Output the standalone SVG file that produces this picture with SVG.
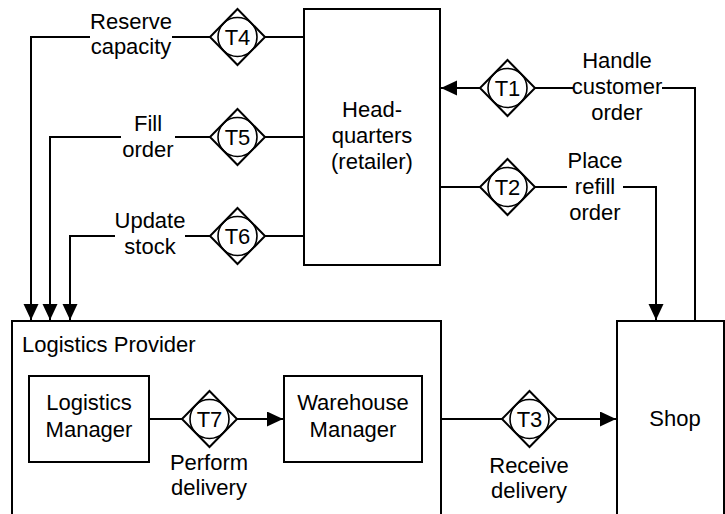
<svg xmlns="http://www.w3.org/2000/svg" width="725" height="514" viewBox="0 0 725 514">
<style>
.box{fill:none;stroke:#000;stroke-width:2}
.ln{fill:none;stroke:#000;stroke-width:2}
.dia{fill:#fff;stroke:#000;stroke-width:2}
.cir{fill:none;stroke:#000;stroke-width:1.6}
text{font-family:"Liberation Sans",Arial,sans-serif;font-size:22px;fill:#000}
.c{text-anchor:middle}
</style>
<defs>
<marker id="ah" markerUnits="userSpaceOnUse" markerWidth="17" markerHeight="16" refX="16" refY="7.5" orient="auto">
<path d="M0,0 L16,7.5 L0,15 z" fill="#000"/>
</marker>
<g id="tsym">
<path d="M0,-28 L27.5,0 L0,28 L-27.5,0 z" class="dia"/>
<circle r="19.5" class="cir"/>
</g>
</defs>
<rect width="725" height="514" fill="#fff"/>

<g id="hq">
<rect class="box" x="304" y="9" width="136" height="256"/>
<text class="c" x="372" y="117">Head-</text>
<text class="c" x="372" y="143">quarters</text>
<text class="c" x="372" y="169">(retailer)</text>
</g>

<g id="logistics-provider">
<rect class="box" x="12" y="321" width="429" height="200"/>
<text x="22" y="352">Logistics Provider</text>
</g>

<g id="shop">
<rect class="box" x="617" y="321" width="107" height="200"/>
<text class="c" x="675" y="426">Shop</text>
</g>

<g id="logistics-manager">
<rect class="box" x="29" y="376" width="120" height="86"/>
<text class="c" x="89" y="410">Logistics</text>
<text class="c" x="89" y="437">Manager</text>
</g>

<g id="warehouse-manager">
<rect class="box" x="284" y="376" width="138" height="86"/>
<text class="c" x="353" y="410">Warehouse</text>
<text class="c" x="353" y="437">Manager</text>
</g>

<g id="connectors">
<polyline class="ln" points="304,37 265,37"/>
<polyline class="ln" points="210,37 172,37"/>
<polyline class="ln" points="90,37 31,37 31,320" marker-end="url(#ah)"/>
<polyline class="ln" points="304,137 265,137"/>
<polyline class="ln" points="210,137 175,137"/>
<polyline class="ln" points="121,137 50,137 50,320" marker-end="url(#ah)"/>
<polyline class="ln" points="304,236 265,236"/>
<polyline class="ln" points="210,236 185,236"/>
<polyline class="ln" points="115,236 70,236 70,320" marker-end="url(#ah)"/>
<polyline class="ln" points="695,321 695,88 662,88"/>
<polyline class="ln" points="573,88 535,88"/>
<polyline class="ln" points="480,88 441,88" marker-end="url(#ah)"/>
<polyline class="ln" points="440,187 480,187"/>
<polyline class="ln" points="535,187 567,187"/>
<polyline class="ln" points="623,187 656,187 656,320" marker-end="url(#ah)"/>
<polyline class="ln" points="149,419 182,419"/>
<polyline class="ln" points="237,419 283,419" marker-end="url(#ah)"/>
<polyline class="ln" points="441,419 502,419"/>
<polyline class="ln" points="557,419 616,419" marker-end="url(#ah)"/>
</g>

<g id="T1">
<use href="#tsym" x="507.5" y="88"/>
<text class="c" x="507.5" y="96">T1</text>
<text class="c" x="617" y="68">Handle</text>
<text class="c" x="617" y="94">customer</text>
<text class="c" x="617" y="120">order</text>
</g>

<g id="T2">
<use href="#tsym" x="507.5" y="187"/>
<text class="c" x="507.5" y="195">T2</text>
<text class="c" x="595" y="168">Place</text>
<text class="c" x="595" y="194">refill</text>
<text class="c" x="595" y="220">order</text>
</g>

<g id="T3">
<use href="#tsym" x="529.5" y="419"/>
<text class="c" x="529.5" y="427">T3</text>
<text class="c" x="529" y="473">Receive</text>
<text class="c" x="529" y="498">delivery</text>
</g>

<g id="T4">
<use href="#tsym" x="237.5" y="37"/>
<text class="c" x="237.5" y="45">T4</text>
<text class="c" x="131" y="29">Reserve</text>
<text class="c" x="131" y="54">capacity</text>
</g>

<g id="T5">
<use href="#tsym" x="237.5" y="137"/>
<text class="c" x="237.5" y="145">T5</text>
<text class="c" x="148" y="131">Fill</text>
<text class="c" x="148" y="157">order</text>
</g>

<g id="T6">
<use href="#tsym" x="237.5" y="236"/>
<text class="c" x="237.5" y="244">T6</text>
<text class="c" x="150" y="228">Update</text>
<text class="c" x="150" y="254">stock</text>
</g>

<g id="T7">
<use href="#tsym" x="209.5" y="419"/>
<text class="c" x="209.5" y="427">T7</text>
<text class="c" x="209" y="470">Perform</text>
<text class="c" x="209" y="495">delivery</text>
</g>
</svg>
